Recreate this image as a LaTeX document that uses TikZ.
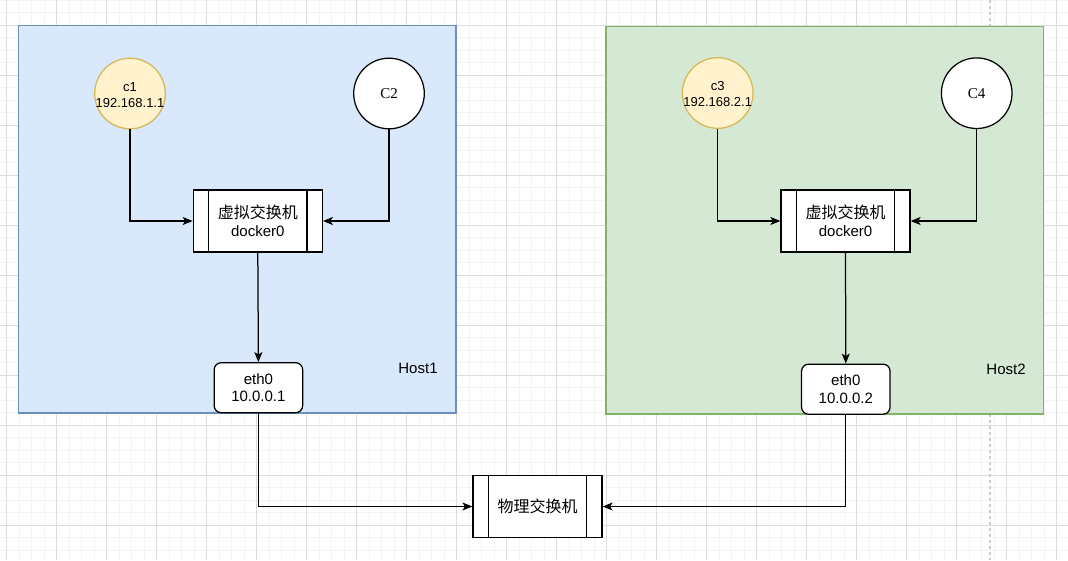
\documentclass[tikz,border=0pt]{standalone}
\usepackage{fontspec}
\setmainfont{Liberation Sans}
\newfontfamily\cjk{Noto Sans CJK SC}
\newfontfamily\tnr{Liberation Serif}
\usetikzlibrary{arrows.meta}
\definecolor{bluefill}{HTML}{DAE8FC}
\definecolor{bluestroke}{HTML}{6C8EBF}
\definecolor{greenfill}{HTML}{D5E8D4}
\definecolor{greenstroke}{HTML}{82B366}
\definecolor{yelfill}{HTML}{FFF2CC}
\definecolor{yelstroke}{HTML}{D6B656}
\definecolor{gridminor}{HTML}{F4F4F4}
\definecolor{gridmajor}{HTML}{DDDDDD}
\definecolor{pagebreak}{HTML}{CCCCCC}
\tikzset{
  minorline/.style={draw=gridminor, line width=1pt},
  majorline/.style={draw=gridmajor, line width=1pt},
  pageline/.style={draw=pagebreak, line width=1.8pt, dash pattern=on 3pt off 3pt},
  hostbox/.style={rectangle, minimum width=437.5pt, minimum height=387.5pt, inner sep=0pt, line width=1.25pt},
  txt/.style={font=\fontsize{15}{18}\selectfont, align=center, inner sep=0pt},
  smalltxt/.style={font=\fontsize{13}{16}\selectfont, align=center, inner sep=0pt},
  circ/.style={circle, minimum size=70.6pt, inner sep=0pt, line width=1.25pt},
  procbox/.style={rectangle, draw=black, fill=white, minimum width=129pt, minimum height=62pt, inner sep=0pt, line width=1.25pt, font=\fontsize{15}{18.5}\selectfont, align=center},
  ethbox/.style={rectangle, rounded corners=7pt, draw=black, fill=white, minimum width=88.5pt, minimum height=50pt, inner sep=0pt, line width=1.25pt, font=\fontsize{15}{17.5}\selectfont, align=center},
  arr/.style={-{Stealth[length=10pt,width=8pt,inset=2.5pt]}, line width=1.25pt, draw=black},
}
\newcommand{\procbars}[1]{%
  \draw[line width=1.25pt] ([xshift=16pt]#1.north west) -- ([xshift=16pt]#1.south west);
  \draw[line width=1.25pt] ([xshift=-16pt]#1.north east) -- ([xshift=-16pt]#1.south east);}
\newcommand{\zh}[1]{{\cjk\fontsize{16}{18.5}\selectfont #1}}
\begin{document}
\begin{tikzpicture}[x=1pt,y=-1pt]
\useasboundingbox (0,0) rectangle (1068,560);
\fill[white] (0,0) rectangle (1068,560);
% grid
\foreach \x in {6.7,19.2,...,1068} \draw[minorline] (\x,0) -- (\x,560);
\foreach \y in {0,12.5,...,560} \draw[minorline] (0,\y) -- (1068,\y);
\foreach \x in {6.7,56.7,...,1068} \draw[majorline] (\x,0) -- (\x,560);
\foreach \y in {25,75,...,560} \draw[majorline] (0,\y) -- (1068,\y);
% page break line
\draw[pageline] (990,0) -- (990,560);
% hosts
\node[hostbox, draw=bluestroke, fill=bluefill] (host1) at (237.25,219.25) {};
\node[hostbox, draw=greenstroke, fill=greenfill] (host2) at (824.75,220.25) {};
\node[txt] (host1lbl) at (418,368.5) {Host1};
\node[txt] (host2lbl) at (1006,369.5) {Host2};
% containers
\node[circ, draw=yelstroke, fill=yelfill] (c1) at (130,93.5) {};
\node[smalltxt] (c1t) at ([yshift=-1.5pt]c1.center) {c1\\192.168.1.1};
\node[circ, draw=black, fill=white, font=\tnr\fontsize{15}{18}\selectfont] (c2) at (389,93.5) {C2};
\node[circ, draw=yelstroke, fill=yelfill] (c3) at (717.7,93) {};
\node[smalltxt] (c3t) at ([yshift=-1.5pt]c3.center) {c3\\192.168.2.1};
\node[circ, draw=black, fill=white, font=\tnr\fontsize{15}{18}\selectfont] (c4) at (976.7,93.2) {C4};
% virtual switches
\node[procbox] (d1) at (257.8,221) {\zh{虚拟交换机}\\docker0};
\procbars{d1}
\node[procbox] (d2) at (845.5,221) {\zh{虚拟交换机}\\docker0};
\procbars{d2}
% eth0
\node[ethbox] (e1) at (258.4,387.7) {eth0\\10.0.0.1};
\node[ethbox] (e2) at (845.8,389.2) {eth0\\10.0.0.2};
% physical switch
\node[procbox] (sw) at (537.5,506.5) {\zh{物理交换机}};
\procbars{sw}
% connectors
\draw[arr] (c1.south) |- (d1.west);
\draw[arr] (c2.south) |- (d1.east);
\draw[arr] (c3.south) |- (d2.west);
\draw[arr] (c4.south) |- (d2.east);
\draw[arr] (d1.south) -- (e1.north);
\draw[arr] (d2.south) -- (e2.north);
\draw[arr] (e1.south) |- (sw.west);
\draw[arr] (e2.south) |- (sw.east);
\end{tikzpicture}
\end{document}
